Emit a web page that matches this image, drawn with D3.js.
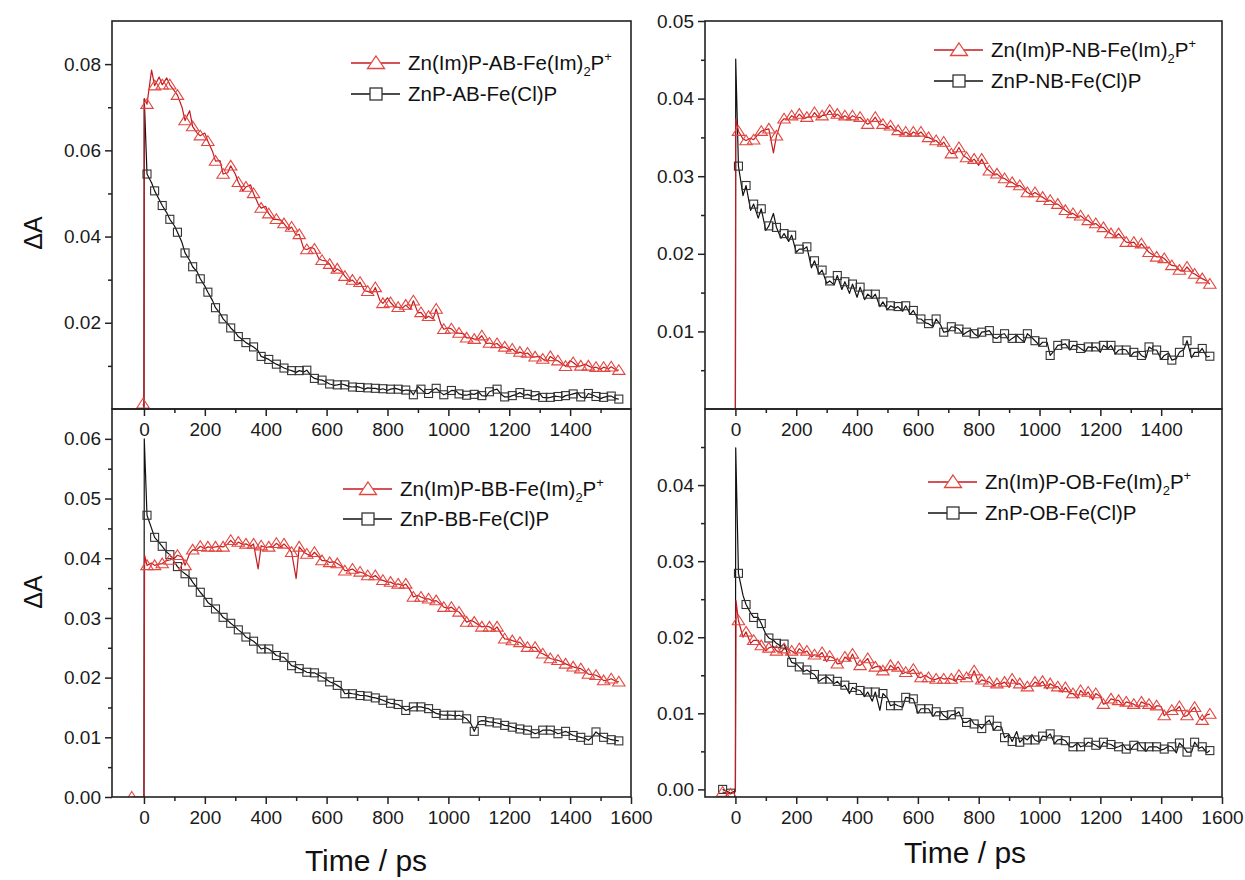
<!DOCTYPE html>
<html><head><meta charset="utf-8">
<script src="https://cdn.jsdelivr.net/npm/d3@7"></script>
<style>
body{margin:0;background:#fff;}
svg text{font-family:"Liberation Sans",Arial,Helvetica,sans-serif;}
</style></head><body>
<svg id="c" width="1245" height="880"></svg>
<script>
// ---------- shared time grids (ps) ----------
const markT = [10,35,60,85,110,135,160,185,210,235,260,285,310,335,360,385,410,435,460,485,510,535,560,585,610,635,660,685,710,735,760,785,810,835,860,885,910,935,960,985,1010,1035,1060,1085,1110,1135,1160,1185,1210,1235,1260,1285,1310,1335,1360,1385,1410,1435,1460,1485,1510,1535,1560];
const midT = [25,50,75,100,125,150,175,200,225,250,275,300,325,350,375,400,425,450,475,500,525,550,575,600,625,650,675,700,725,750,775,800,825,850,875,900,925,950,975,1000,1025,1050,1075,1100,1125,1150,1175,1200,1225,1250,1275,1300,1325,1350,1375,1400,1425,1450,1475,1500,1525,1550];

// ---------- tick values ----------
const xTicksTop = [0,200,400,600,800,1000,1200,1400];
const xTicksBottom = [0,200,400,600,800,1000,1200,1400,1600];
const xMinor = [100,300,500,700,900,1100,1300,1500];
const tlYMajor = [0.02,0.04,0.06,0.08];
const tlYMinor = [0.01,0.03,0.05,0.07];
const trYMajor = [0.01,0.02,0.03,0.04,0.05];
const trYMinor = [0.005,0.015,0.025,0.035,0.045];
const blYMajor = [0.00,0.01,0.02,0.03,0.04,0.05,0.06];
const blYMinor = [0.005,0.015,0.025,0.035,0.045,0.055];
const brYMajor = [0.00,0.01,0.02,0.03,0.04];
const brYMinor = [0.005,0.015,0.025,0.035,0.045];

// ---------- legend labels ----------
const redLabels = ["Zn(Im)P-AB-Fe(Im)","Zn(Im)P-NB-Fe(Im)","Zn(Im)P-BB-Fe(Im)","Zn(Im)P-OB-Fe(Im)"];
const blackLabels = ["ZnP-AB-Fe(Cl)P","ZnP-NB-Fe(Cl)P","ZnP-BB-Fe(Cl)P","ZnP-OB-Fe(Cl)P"];
const xTitle = "Time / ps";
const yTitle = "\u0394A";

// ---------- AB panel ----------
const tlRedOn = [[-3,0.0012],[0,0.0005],[1,0.0720]];
const tlRedPre = [[-3,0.0012]];
const tlRedMark = [0.0707,0.0750,0.0752,0.0752,0.0728,0.0669,0.0655,0.0634,0.0621,0.0575,
0.0545,0.0564,0.0526,0.0515,0.0500,0.0466,0.0453,0.0440,0.0430,0.0422,
0.0405,0.0370,0.0371,0.0345,0.0336,0.0325,0.0308,0.0299,0.0294,0.0273,
0.0282,0.0245,0.0247,0.0236,0.0241,0.0251,0.0224,0.0215,0.0232,0.0185,
0.0186,0.0176,0.0165,0.0162,0.0170,0.0153,0.0152,0.0144,0.0139,0.0132,
0.0130,0.0121,0.0116,0.0122,0.0112,0.0099,0.0108,0.0100,0.0100,0.0097,
0.0097,0.0098,0.0090];
const tlRedMid = [0.0786,0.0770,0.0768,0.0738,0.0700,0.0692,0.0640,0.0640,0.0598,0.0576,
0.0548,0.0545,0.0506,0.0520,0.0476,0.0470,0.0440,0.0438,0.0416,0.0403,
0.0372,0.0375,0.0348,0.0343,0.0318,0.0318,0.0296,0.0288,0.0274,0.0268,
0.0252,0.0258,0.0236,0.0235,0.0231,0.0223,0.0210,0.0209,0.0197,0.0188,
0.0176,0.0175,0.0165,0.0163,0.0152,0.0150,0.0142,0.0137,0.0130,0.0128,
0.0120,0.0122,0.0111,0.0114,0.0104,0.0112,0.0099,0.0104,0.0095,0.0092,
0.0093,0.0091];
const tlBlackOn = [[0,0],[1,0.0719]];
const tlBlackPre = [];
const tlBlackMark = [0.0545,0.0506,0.0472,0.0440,0.0410,0.0362,0.0330,0.0302,0.0271,0.0235,
0.0209,0.0188,0.0168,0.0154,0.0144,0.0122,0.0115,0.0104,0.0095,0.0089,
0.0089,0.0090,0.0071,0.0067,0.0058,0.0056,0.0056,0.0051,0.0050,0.0049,
0.0048,0.0047,0.0046,0.0046,0.0044,0.0033,0.0046,0.0036,0.0048,0.0033,
0.0043,0.0035,0.0032,0.0034,0.0031,0.0040,0.0046,0.0028,0.0031,0.0038,
0.0034,0.0031,0.0027,0.0027,0.0029,0.0031,0.0035,0.0028,0.0036,0.0029,
0.0027,0.0030,0.0023];
const tlBlackMid = [0.0525,0.0486,0.0455,0.0425,0.0386,0.0345,0.0318,0.0285,0.0252,0.0222,
0.0198,0.0178,0.0160,0.0148,0.0135,0.0118,0.0108,0.0099,0.0091,0.0085,
0.0086,0.0076,0.0068,0.0062,0.0055,0.0058,0.0052,0.0052,0.0046,0.0048,
0.0045,0.0043,0.0048,0.0042,0.0043,0.0052,0.0036,0.0044,0.0038,0.0038,
0.0042,0.0032,0.0035,0.0039,0.0030,0.0044,0.0033,0.0028,0.0034,0.0032,
0.0030,0.0036,0.0026,0.0030,0.0027,0.0033,0.0038,0.0025,0.0032,0.0024,
0.0030,0.0024];

// ---------- NB panel ----------
const trRedOn = [[0,0],[1,0.0374]];
const trRedPre = [];
const trRedMark = [0.0358,0.0346,0.0347,0.0358,0.0361,0.0352,0.0374,0.0378,0.0380,0.0376,
0.0382,0.0378,0.0385,0.0380,0.0378,0.0378,0.0376,0.0367,0.0376,0.0367,
0.0365,0.0359,0.0357,0.0357,0.0357,0.0350,0.0346,0.0344,0.0329,0.0337,
0.0324,0.0322,0.0322,0.0307,0.0303,0.0297,0.0292,0.0288,0.0279,0.0279,
0.0273,0.0269,0.0264,0.0256,0.0252,0.0249,0.0243,0.0239,0.0234,0.0226,
0.0226,0.0215,0.0215,0.0213,0.0202,0.0196,0.0194,0.0185,0.0179,0.0183,
0.0174,0.0168,0.0161];
const trRedMid = [0.0348,0.0349,0.0354,0.0360,0.0330,0.0370,0.0373,0.0375,0.0374,0.0376,
0.0375,0.0379,0.0376,0.0375,0.0374,0.0375,0.0370,0.0371,0.0366,0.0362,
0.0358,0.0354,0.0353,0.0354,0.0350,0.0347,0.0340,0.0334,0.0330,0.0326,
0.0319,0.0314,0.0310,0.0302,0.0298,0.0293,0.0288,0.0283,0.0276,0.0275,
0.0269,0.0264,0.0259,0.0252,0.0248,0.0244,0.0238,0.0234,0.0228,0.0222,
0.0219,0.0214,0.0208,0.0206,0.0198,0.0196,0.0188,0.0184,0.0178,0.0176,
0.0170,0.0165];
const trBlackOn = [[0,0],[1,0.0451]];
const trBlackPre = [];
const trBlackMark = [0.0313,0.0288,0.0264,0.0258,0.0236,0.0234,0.0226,0.0224,0.0206,0.0209,
0.0191,0.0179,0.0165,0.0172,0.0164,0.0161,0.0157,0.0148,0.0148,0.0138,
0.0133,0.0132,0.0133,0.0127,0.0116,0.0110,0.0116,0.0099,0.0106,0.0103,
0.0099,0.0097,0.0099,0.0101,0.0091,0.0097,0.0091,0.0091,0.0097,0.0088,
0.0086,0.0069,0.0082,0.0084,0.0082,0.0078,0.0080,0.0080,0.0082,0.0082,
0.0076,0.0076,0.0073,0.0069,0.0080,0.0076,0.0069,0.0063,0.0073,0.0088,
0.0073,0.0078,0.0068];
const trBlackMid = [0.0275,0.0256,0.0246,0.0230,0.0252,0.0220,0.0216,0.0202,0.0206,0.0182,
0.0174,0.0162,0.0160,0.0154,0.0149,0.0144,0.0141,0.0143,0.0132,0.0128,
0.0130,0.0126,0.0122,0.0116,0.0111,0.0106,0.0108,0.0100,0.0105,0.0096,
0.0102,0.0093,0.0100,0.0092,0.0096,0.0088,0.0095,0.0086,0.0092,0.0082,
0.0086,0.0076,0.0083,0.0076,0.0081,0.0074,0.0079,0.0073,0.0078,0.0071,
0.0077,0.0068,0.0074,0.0066,0.0076,0.0064,0.0072,0.0065,0.0077,0.0066,
0.0073,0.0067];

// ---------- BB panel ----------
const blRedOn = [[-40,0],[0,0],[2,0.0405]];
const blRedPre = [[-40,0]];
const blRedMark = [0.0388,0.0388,0.0391,0.0397,0.0405,0.0388,0.0414,0.0420,0.0419,0.0419,
0.0419,0.0430,0.0427,0.0424,0.0424,0.0421,0.0419,0.0425,0.0424,0.0410,
0.0419,0.0407,0.0410,0.0396,0.0393,0.0391,0.0379,0.0382,0.0377,0.0371,
0.0371,0.0363,0.0360,0.0357,0.0357,0.0335,0.0335,0.0332,0.0329,0.0318,
0.0318,0.0310,0.0293,0.0293,0.0285,0.0285,0.0285,0.0265,0.0262,0.0259,
0.0251,0.0251,0.0240,0.0232,0.0229,0.0223,0.0218,0.0215,0.0206,0.0204,
0.0195,0.0198,0.0193];
const blRedMid = [0.0392,0.0390,0.0396,0.0400,0.0402,0.0408,0.0415,0.0416,0.0418,0.0420,
0.0424,0.0422,0.0423,0.0420,0.0382,0.0418,0.0420,0.0419,0.0416,0.0366,
0.0410,0.0404,0.0402,0.0396,0.0394,0.0386,0.0380,0.0376,0.0374,0.0368,
0.0364,0.0360,0.0356,0.0354,0.0346,0.0338,0.0332,0.0328,0.0323,0.0316,
0.0312,0.0300,0.0296,0.0288,0.0286,0.0280,0.0272,0.0264,0.0260,0.0252,
0.0250,0.0242,0.0236,0.0230,0.0226,0.0220,0.0216,0.0210,0.0205,0.0200,
0.0196,0.0194];
const blBlackOn = [[0,0],[1,0.0600]];
const blBlackPre = [];
const blBlackMark = [0.0472,0.0435,0.0420,0.0406,0.0386,0.0374,0.0360,0.0343,0.0326,0.0315,
0.0301,0.0291,0.0280,0.0268,0.0261,0.0248,0.0248,0.0237,0.0234,0.0220,
0.0215,0.0209,0.0208,0.0201,0.0193,0.0187,0.0173,0.0173,0.0170,0.0169,
0.0166,0.0162,0.0157,0.0155,0.0145,0.0151,0.0151,0.0148,0.0140,0.0137,
0.0137,0.0137,0.0131,0.0110,0.0128,0.0126,0.0124,0.0120,0.0117,0.0114,
0.0112,0.0106,0.0112,0.0112,0.0106,0.0110,0.0103,0.0100,0.0095,0.0109,
0.0100,0.0096,0.0094];
const blBlackMid = [0.0450,0.0426,0.0410,0.0394,0.0378,0.0368,0.0350,0.0334,0.0320,0.0308,
0.0296,0.0285,0.0274,0.0264,0.0254,0.0250,0.0242,0.0235,0.0226,0.0218,
0.0212,0.0208,0.0204,0.0197,0.0190,0.0182,0.0174,0.0172,0.0170,0.0167,
0.0164,0.0159,0.0156,0.0150,0.0148,0.0151,0.0149,0.0143,0.0138,0.0137,
0.0136,0.0134,0.0122,0.0126,0.0127,0.0125,0.0122,0.0119,0.0115,0.0113,
0.0109,0.0109,0.0112,0.0109,0.0108,0.0106,0.0101,0.0098,0.0102,0.0103,
0.0098,0.0095];

// ---------- OB panel ----------
const brRedOn = [[-42,-0.00035],[-16,-0.0006],[0,-0.0003],[2,0.0248]];
const brRedPre = [[-42,-0.00035],[-16,-0.0006]];
const brRedMark = [0.0222,0.0207,0.0196,0.0189,0.0186,0.0182,0.0185,0.0182,0.0185,0.0182,
0.0177,0.0180,0.0175,0.0165,0.0174,0.0178,0.0163,0.0172,0.0161,0.0156,
0.0163,0.0161,0.0154,0.0158,0.0147,0.0147,0.0145,0.0145,0.0145,0.0150,
0.0147,0.0156,0.0144,0.0141,0.0139,0.0141,0.0145,0.0139,0.0135,0.0141,
0.0142,0.0139,0.0135,0.0134,0.0126,0.0130,0.0128,0.0126,0.0112,0.0119,
0.0117,0.0115,0.0112,0.0115,0.0112,0.0110,0.0097,0.0104,0.0109,0.0097,
0.0108,0.0091,0.0099];
const brRedMid = [0.0200,0.0192,0.0196,0.0182,0.0188,0.0180,0.0184,0.0178,0.0180,0.0174,
0.0176,0.0168,0.0172,0.0166,0.0169,0.0164,0.0168,0.0159,0.0162,0.0156,
0.0158,0.0152,0.0155,0.0148,0.0150,0.0144,0.0147,0.0146,0.0142,0.0145,
0.0146,0.0140,0.0142,0.0136,0.0139,0.0134,0.0138,0.0132,0.0136,0.0138,
0.0132,0.0135,0.0128,0.0126,0.0120,0.0124,0.0118,0.0122,0.0114,0.0117,
0.0110,0.0113,0.0108,0.0112,0.0106,0.0109,0.0102,0.0105,0.0096,0.0104,
0.0094,0.0098];
const brBlackOn = [[-42,0],[-16,-0.0005],[0,-0.0002],[1,0.0449]];
const brBlackPre = [[-42,0],[-16,-0.0005]];
const brBlackMark = [0.0284,0.0243,0.0226,0.0218,0.0199,0.0192,0.0191,0.0167,0.0161,0.0157,
0.0151,0.0145,0.0145,0.0142,0.0137,0.0134,0.0130,0.0128,0.0128,0.0126,
0.0110,0.0110,0.0121,0.0119,0.0106,0.0106,0.0102,0.0097,0.0098,0.0102,
0.0088,0.0086,0.0080,0.0091,0.0083,0.0068,0.0063,0.0062,0.0065,0.0065,
0.0070,0.0073,0.0065,0.0064,0.0056,0.0056,0.0062,0.0058,0.0062,0.0059,
0.0056,0.0053,0.0058,0.0056,0.0056,0.0056,0.0053,0.0056,0.0061,0.0049,
0.0062,0.0056,0.0051];
const brBlackMid = [0.0255,0.0232,0.0226,0.0204,0.0196,0.0188,0.0175,0.0165,0.0155,0.0153,
0.0142,0.0148,0.0139,0.0135,0.0126,0.0131,0.0122,0.0116,0.0104,0.0120,
0.0112,0.0108,0.0120,0.0100,0.0106,0.0096,0.0102,0.0093,0.0099,0.0088,
0.0092,0.0084,0.0088,0.0078,0.0082,0.0072,0.0076,0.0068,0.0072,0.0062,
0.0069,0.0060,0.0066,0.0056,0.0061,0.0058,0.0060,0.0054,0.0060,0.0055,
0.0059,0.0052,0.0062,0.0050,0.0056,0.0052,0.0057,0.0048,0.0055,0.0049,
0.0054,0.0048];

// ---------- styles ----------
const RED_LINE = "#c41a22", RED_MARK = "#e3463f", BLACK_LINE = "#111", BLACK_MARK = "#333";
const TICK_FONT = 19, LEG_FONT = 20.5;

const panels = [
  {key:"tl", box:[112,21,631,409], xDom:[-105,1600], yDom:[0,0.09], yMajor:tlYMajor, yMinor:tlYMinor, xMajor:xTicksTop,
   red:{on:tlRedOn,pre:tlRedPre,mark:tlRedMark,mid:tlRedMid}, black:{on:tlBlackOn,pre:tlBlackPre,mark:tlBlackMark,mid:tlBlackMid},
   leg:{x:351,y:63,dy:31}, li:0},
  {key:"tr", box:[705,21,1222,409], xDom:[-100,1600], yDom:[0,0.05], yMajor:trYMajor, yMinor:trYMinor, xMajor:xTicksTop,
   red:{on:trRedOn,pre:trRedPre,mark:trRedMark,mid:trRedMid}, black:{on:trBlackOn,pre:trBlackPre,mark:trBlackMark,mid:trBlackMid},
   leg:{x:934,y:50,dy:31}, li:1},
  {key:"bl", box:[112,409,631,797], xDom:[-105,1600], yDom:[0,0.065], yMajor:blYMajor, yMinor:blYMinor, xMajor:xTicksBottom,
   red:{on:blRedOn,pre:blRedPre,mark:blRedMark,mid:blRedMid}, black:{on:blBlackOn,pre:blBlackPre,mark:blBlackMark,mid:blBlackMid},
   leg:{x:343,y:489,dy:30}, li:2},
  {key:"br", box:[705,409,1222,797], xDom:[-100,1600], yDom:[-0.001,0.05], yMajor:brYMajor, yMinor:brYMinor, xMajor:xTicksBottom,
   red:{on:brRedOn,pre:brRedPre,mark:brRedMark,mid:brRedMid}, black:{on:brBlackOn,pre:brBlackPre,mark:brBlackMark,mid:brBlackMid},
   leg:{x:928,y:482,dy:31}, li:3}
];

const svg = d3.select("#c");
const defs = svg.append("defs");
const triPath = "M0,-5.5L6.2,4.2L-6.2,4.2Z";
const triLeg = "M0,-7L8.5,5.5L-8.5,5.5Z";

function linePts(s){
  const body = markT.map((t,i)=>({t, v:s.mark[i]}))
    .concat(midT.map((t,i)=>({t, v:s.mid[i]})))
    .filter(d=>d.v!=null)
    .sort((a,b)=>a.t-b.t);
  return s.on.map(d=>({t:d[0], v:d[1]})).concat(body);
}
function markPts(s){
  return s.pre.map(d=>({t:d[0], v:d[1]}))
    .concat(markT.map((t,i)=>({t, v:s.mark[i]})).filter(d=>d.v!=null));
}

const gData = svg.append("g");
const gAxes = svg.append("g");

panels.forEach(p=>{
  const [x0,y0,x1,y1] = p.box;
  const x = d3.scaleLinear().domain(p.xDom).range([x0,x1]);
  const y = d3.scaleLinear().domain(p.yDom).range([y1,y0]);
  const cid = "clip-"+p.key;
  defs.append("clipPath").attr("id",cid).append("rect")
    .attr("x",x0).attr("y",y0).attr("width",x1-x0).attr("height",y1-y0);
  const g = gData.append("g").attr("clip-path",`url(#${cid})`);
  const line = d3.line().x(d=>x(d.t)).y(d=>y(d.v));

  g.append("path").attr("d",line(linePts(p.black))).attr("fill","none")
    .attr("stroke",BLACK_LINE).attr("stroke-width",1.2).attr("stroke-linejoin","round");
  g.append("path").attr("d",line(linePts(p.red))).attr("fill","none")
    .attr("stroke",RED_LINE).attr("stroke-width",1.2).attr("stroke-linejoin","round");

  g.selectAll(null).data(markPts(p.black)).enter().append("rect")
    .attr("x",d=>x(d.t)-4).attr("y",d=>y(d.v)-4).attr("width",8).attr("height",8)
    .attr("fill","none").attr("stroke",BLACK_MARK).attr("stroke-width",1.1);
  g.selectAll(null).data(markPts(p.red)).enter().append("path")
    .attr("d",triPath).attr("transform",d=>`translate(${x(d.t)},${y(d.v)})`)
    .attr("fill","none").attr("stroke",RED_MARK).attr("stroke-width",1.1);

  // frame
  gAxes.append("rect").attr("x",x0).attr("y",y0).attr("width",x1-x0).attr("height",y1-y0)
    .attr("fill","none").attr("stroke","#222").attr("stroke-width",1.6);

  // y axis
  const ya = gAxes.append("g").attr("transform",`translate(${x0},0)`)
    .call(d3.axisLeft(y).tickValues(p.yMajor).tickSize(7).tickSizeOuter(0).tickPadding(4).tickFormat(d3.format(".2f")));
  const ym = gAxes.append("g").attr("transform",`translate(${x0},0)`)
    .call(d3.axisLeft(y).tickValues(p.yMinor).tickSize(4).tickSizeOuter(0).tickFormat(""));
  // x axis
  const xa = gAxes.append("g").attr("transform",`translate(0,${y1})`)
    .call(d3.axisBottom(x).tickValues(p.xMajor).tickSize(7).tickSizeOuter(0).tickPadding(7).tickFormat(d3.format("d")));
  const xm = gAxes.append("g").attr("transform",`translate(0,${y1})`)
    .call(d3.axisBottom(x).tickValues(xMinor).tickSize(4).tickSizeOuter(0).tickFormat(""));
  [ya,ym,xa,xm].forEach(a=>{
    a.select(".domain").remove();
    a.selectAll(".tick line").attr("stroke","#222").attr("stroke-width",1.5);
    a.selectAll(".tick text").attr("font-size",TICK_FONT).attr("fill","#1a1a1a")
      .attr("font-family","'Liberation Sans',Arial,sans-serif");
  });

  // legend
  const L = p.leg;
  const lg = gAxes.append("g");
  const rows = [
    {col:RED_LINE, mc:RED_MARK, tri:true, y:L.y},
    {col:BLACK_LINE, mc:BLACK_MARK, tri:false, y:L.y+L.dy}
  ];
  rows.forEach((r,i)=>{
    lg.append("line").attr("x1",L.x).attr("x2",L.x+49).attr("y1",r.y).attr("y2",r.y)
      .attr("stroke",r.col).attr("stroke-width",1.4);
    if(r.tri){
      lg.append("path").attr("d",triLeg).attr("transform",`translate(${L.x+25},${r.y})`)
        .attr("fill","#fff").attr("stroke",r.mc).attr("stroke-width",1.3);
    } else {
      lg.append("rect").attr("x",L.x+25-6).attr("y",r.y-6).attr("width",12).attr("height",12)
        .attr("fill","#fff").attr("stroke",r.mc).attr("stroke-width",1.3);
    }
    const t = lg.append("text").attr("x",L.x+57).attr("y",r.y+7).attr("font-size",LEG_FONT).attr("fill","#111");
    if(i===0){
      t.append("tspan").text(redLabels[p.li]);
      t.append("tspan").text("2").attr("font-size",13).attr("dy",6);
      t.append("tspan").text("P").attr("dy",-6);
      t.append("tspan").text("+").attr("font-size",13).attr("dy",-9);
    } else {
      t.text(blackLabels[p.li]);
    }
  });
});

// axis titles
gAxes.append("text").attr("transform","translate(42,233) rotate(-90)").attr("text-anchor","middle")
  .attr("font-size",25).attr("fill","#111").text(yTitle);
gAxes.append("text").attr("transform","translate(42,592) rotate(-90)").attr("text-anchor","middle")
  .attr("font-size",25).attr("fill","#111").text(yTitle);
gAxes.append("text").attr("x",366).attr("y",871).attr("text-anchor","middle")
  .attr("font-size",30).attr("fill","#111").text(xTitle);
gAxes.append("text").attr("x",965).attr("y",863).attr("text-anchor","middle")
  .attr("font-size",30).attr("fill","#111").text(xTitle);
</script>
</body></html>
